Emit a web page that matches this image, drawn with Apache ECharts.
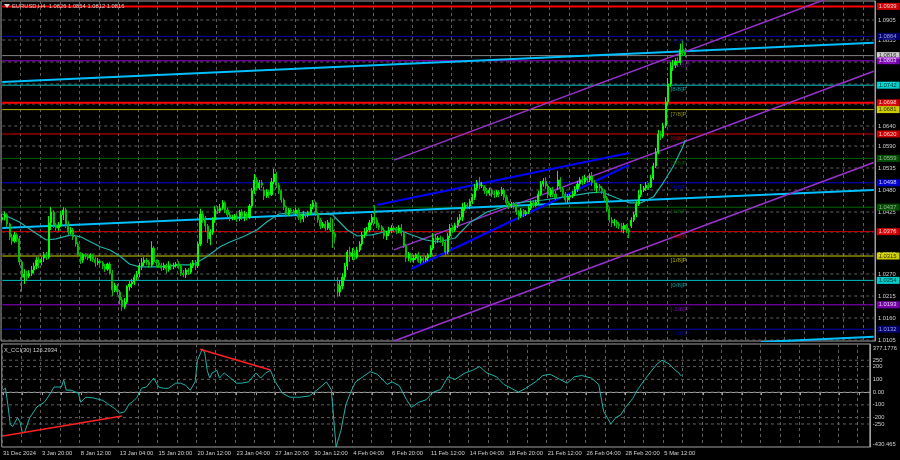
<!DOCTYPE html>
<html><head><meta charset="utf-8">
<script src="https://cdn.jsdelivr.net/npm/echarts@6/dist/echarts.min.js"></script>
<style>html,body{margin:0;padding:0;background:#000;}#c{width:900px;height:460px;}</style>
</head><body><div id="c"></div>
<script>
// ---------- DATA ----------
const timeLabels = ['31 Dec 2024','3 Jan 20:00','8 Jan 12:00','13 Jan 04:00','15 Jan 20:00','20 Jan 12:00','23 Jan 04:00','27 Jan 20:00','30 Jan 12:00','4 Feb 04:00','6 Feb 20:00','11 Feb 12:00','14 Feb 04:00','18 Feb 20:00','21 Feb 12:00','26 Feb 04:00','28 Feb 20:00','5 Mar 12:00'];
// [open, close, low, high] per H4 bar
const candles = [
[1.0405,1.0412,1.0398,1.0420],[1.0412,1.0418,1.0404,1.0426],[1.0418,1.0395,1.0388,1.0422],[1.0395,1.0362,1.0355,1.0398],[1.0362,1.0352,1.0343,1.0370],
[1.0352,1.0368,1.0348,1.0375],[1.0368,1.0358,1.0350,1.0372],[1.0358,1.0300,1.0292,1.0365],[1.0300,1.0262,1.0226,1.0305],[1.0262,1.0270,1.0245,1.0282],[1.0270,1.0265,1.0255,1.0278],
[1.0265,1.0272,1.0260,1.0280],[1.0272,1.0280,1.0265,1.0290],[1.0280,1.0290,1.0272,1.0298],[1.0290,1.0305,1.0282,1.0312],[1.0305,1.0298,1.0285,1.0312],[1.0298,1.0306,1.0292,1.0312],
[1.0310,1.0318,1.0300,1.0325],[1.0318,1.0312,1.0305,1.0325],[1.0312,1.0398,1.0308,1.0415],[1.0398,1.0425,1.0380,1.0437],[1.0425,1.0392,1.0385,1.0430],[1.0392,1.0385,1.0378,1.0398],
[1.0385,1.0392,1.0378,1.0400],[1.0392,1.0418,1.0388,1.0428],[1.0418,1.0430,1.0405,1.0437],[1.0430,1.0395,1.0385,1.0435],[1.0395,1.0375,1.0368,1.0402],[1.0375,1.0380,1.0370,1.0388],
[1.0380,1.0362,1.0355,1.0385],[1.0362,1.0345,1.0338,1.0368],[1.0345,1.0318,1.0312,1.0350],[1.0318,1.0305,1.0295,1.0325],[1.0305,1.0318,1.0298,1.0322],[1.0318,1.0315,1.0308,1.0322],
[1.0315,1.0310,1.0305,1.0320],[1.0310,1.0318,1.0302,1.0322],[1.0318,1.0306,1.0300,1.0320],[1.0306,1.0298,1.0288,1.0312],[1.0298,1.0302,1.0292,1.0310],[1.0302,1.0298,1.0292,1.0306],
[1.0298,1.0290,1.0282,1.0302],[1.0290,1.0282,1.0275,1.0295],[1.0282,1.0295,1.0278,1.0298],[1.0295,1.0272,1.0268,1.0300],[1.0272,1.0230,1.0215,1.0280],[1.0230,1.0242,1.0225,1.0248],
[1.0240,1.0225,1.0218,1.0245],[1.0225,1.0205,1.0195,1.0230],[1.0205,1.0188,1.0178,1.0212],[1.0188,1.0200,1.0182,1.0210],[1.0200,1.0238,1.0195,1.0242],[1.0238,1.0245,1.0228,1.0252],
[1.0245,1.0250,1.0235,1.0258],[1.0250,1.0262,1.0242,1.0268],[1.0262,1.0270,1.0255,1.0278],[1.0270,1.0290,1.0262,1.0298],[1.0290,1.0298,1.0280,1.0310],[1.0298,1.0305,1.0290,1.0312],
[1.0305,1.0300,1.0292,1.0310],[1.0300,1.0292,1.0285,1.0305],[1.0292,1.0335,1.0288,1.0352],[1.0335,1.0300,1.0295,1.0340],[1.0300,1.0298,1.0288,1.0306],[1.0298,1.0292,1.0285,1.0305],
[1.0292,1.0285,1.0278,1.0298],[1.0285,1.0292,1.0280,1.0298],[1.0292,1.0282,1.0272,1.0296],[1.0282,1.0290,1.0276,1.0302],[1.0290,1.0288,1.0280,1.0296],[1.0288,1.0292,1.0282,1.0298],
[1.0292,1.0295,1.0286,1.0300],[1.0295,1.0290,1.0282,1.0302],[1.0290,1.0272,1.0265,1.0295],[1.0272,1.0268,1.0262,1.0280],[1.0268,1.0280,1.0260,1.0285],[1.0280,1.0275,1.0268,1.0285],
[1.0275,1.0292,1.0270,1.0298],[1.0292,1.0298,1.0285,1.0305],[1.0298,1.0290,1.0280,1.0305],[1.0290,1.0345,1.0285,1.0350],[1.0345,1.0420,1.0340,1.0433],[1.0420,1.0410,1.0398,1.0428],
[1.0410,1.0390,1.0375,1.0415],[1.0390,1.0358,1.0348,1.0395],[1.0358,1.0375,1.0342,1.0382],[1.0375,1.0405,1.0368,1.0412],[1.0405,1.0432,1.0398,1.0440],[1.0432,1.0428,1.0420,1.0440],
[1.0428,1.0435,1.0422,1.0445],[1.0435,1.0448,1.0430,1.0455],[1.0448,1.0430,1.0422,1.0452],[1.0430,1.0418,1.0410,1.0436],[1.0418,1.0410,1.0402,1.0425],[1.0410,1.0412,1.0404,1.0418],
[1.0412,1.0415,1.0405,1.0420],[1.0415,1.0408,1.0400,1.0422],[1.0408,1.0425,1.0402,1.0430],[1.0425,1.0415,1.0405,1.0432],[1.0415,1.0420,1.0402,1.0428],[1.0420,1.0412,1.0405,1.0425],
[1.0412,1.0440,1.0408,1.0445],[1.0440,1.0478,1.0435,1.0485],[1.0478,1.0505,1.0470,1.0520],[1.0505,1.0485,1.0478,1.0512],[1.0485,1.0498,1.0480,1.0505],[1.0498,1.0492,1.0485,1.0505],
[1.0480,1.0465,1.0455,1.0488],[1.0465,1.0475,1.0460,1.0482],[1.0475,1.0468,1.0460,1.0480],[1.0468,1.0500,1.0465,1.0510],[1.0500,1.0520,1.0495,1.0533],[1.0520,1.0492,1.0485,1.0525],
[1.0492,1.0478,1.0470,1.0498],[1.0478,1.0455,1.0448,1.0482],[1.0455,1.0438,1.0430,1.0460],[1.0438,1.0420,1.0412,1.0442],[1.0420,1.0430,1.0415,1.0435],[1.0430,1.0428,1.0422,1.0435],
[1.0428,1.0422,1.0415,1.0432],[1.0422,1.0430,1.0416,1.0436],[1.0430,1.0412,1.0405,1.0435],[1.0412,1.0408,1.0398,1.0418],[1.0408,1.0420,1.0400,1.0428],[1.0420,1.0418,1.0410,1.0425],
[1.0418,1.0422,1.0412,1.0428],[1.0422,1.0438,1.0418,1.0445],[1.0438,1.0448,1.0432,1.0455],[1.0448,1.0420,1.0415,1.0452],[1.0420,1.0405,1.0398,1.0425],[1.0405,1.0390,1.0382,1.0410],
[1.0390,1.0395,1.0385,1.0400],[1.0395,1.0385,1.0378,1.0402],[1.0385,1.0398,1.0380,1.0405],[1.0398,1.0380,1.0375,1.0412],[1.0380,1.0370,1.0335,1.0408],[1.0370,1.0362,1.0352,1.0375],
[1.0245,1.0225,1.0213,1.0262],[1.0225,1.0240,1.0215,1.0255],[1.0240,1.0262,1.0232,1.0272],[1.0262,1.0290,1.0255,1.0298],[1.0290,1.0325,1.0280,1.0330],[1.0325,1.0315,1.0300,1.0338],
[1.0315,1.0322,1.0305,1.0335],[1.0322,1.0312,1.0305,1.0330],[1.0312,1.0330,1.0308,1.0338],[1.0330,1.0345,1.0325,1.0352],[1.0345,1.0368,1.0340,1.0375],[1.0368,1.0375,1.0360,1.0385],
[1.0375,1.0380,1.0368,1.0388],[1.0380,1.0398,1.0375,1.0405],[1.0398,1.0412,1.0392,1.0420],[1.0412,1.0405,1.0395,1.0442],[1.0405,1.0392,1.0385,1.0412],[1.0392,1.0388,1.0380,1.0398],
[1.0388,1.0380,1.0372,1.0392],[1.0380,1.0365,1.0358,1.0385],[1.0365,1.0372,1.0355,1.0378],[1.0372,1.0380,1.0365,1.0388],[1.0380,1.0385,1.0372,1.0392],[1.0385,1.0382,1.0375,1.0390],
[1.0382,1.0378,1.0370,1.0388],[1.0378,1.0385,1.0372,1.0392],[1.0385,1.0372,1.0365,1.0395],[1.0372,1.0340,1.0335,1.0378],[1.0340,1.0310,1.0300,1.0345],[1.0310,1.0320,1.0302,1.0325],
[1.0318,1.0305,1.0298,1.0322],[1.0305,1.0310,1.0298,1.0318],[1.0310,1.0318,1.0305,1.0322],[1.0318,1.0302,1.0298,1.0325],[1.0302,1.0308,1.0296,1.0315],[1.0308,1.0305,1.0298,1.0312],
[1.0305,1.0310,1.0300,1.0315],[1.0310,1.0318,1.0302,1.0322],[1.0318,1.0335,1.0312,1.0342],[1.0335,1.0360,1.0330,1.0372],[1.0360,1.0355,1.0345,1.0370],[1.0355,1.0360,1.0348,1.0365],
[1.0360,1.0358,1.0348,1.0366],[1.0358,1.0350,1.0340,1.0362],[1.0350,1.0325,1.0313,1.0356],[1.0325,1.0365,1.0320,1.0372],[1.0365,1.0385,1.0360,1.0395],[1.0385,1.0380,1.0372,1.0392],
[1.0380,1.0392,1.0375,1.0398],[1.0392,1.0405,1.0385,1.0412],[1.0405,1.0412,1.0398,1.0420],[1.0412,1.0435,1.0402,1.0448],[1.0435,1.0442,1.0428,1.0450],[1.0442,1.0440,1.0432,1.0448],
[1.0440,1.0452,1.0432,1.0458],[1.0452,1.0462,1.0445,1.0470],[1.0462,1.0485,1.0455,1.0495],[1.0485,1.0498,1.0478,1.0505],[1.0498,1.0490,1.0482,1.0513],[1.0490,1.0492,1.0485,1.0500],
[1.0488,1.0478,1.0470,1.0492],[1.0478,1.0472,1.0465,1.0485],[1.0472,1.0480,1.0466,1.0486],[1.0480,1.0470,1.0462,1.0484],[1.0470,1.0468,1.0460,1.0478],[1.0468,1.0475,1.0462,1.0480],
[1.0475,1.0470,1.0462,1.0480],[1.0470,1.0480,1.0465,1.0488],[1.0480,1.0462,1.0455,1.0485],[1.0462,1.0448,1.0440,1.0468],[1.0448,1.0440,1.0432,1.0452],[1.0440,1.0445,1.0435,1.0450],
[1.0445,1.0440,1.0432,1.0450],[1.0440,1.0425,1.0418,1.0445],[1.0425,1.0415,1.0405,1.0430],[1.0415,1.0428,1.0410,1.0435],[1.0428,1.0420,1.0412,1.0432],[1.0420,1.0425,1.0415,1.0430],
[1.0425,1.0435,1.0420,1.0440],[1.0435,1.0448,1.0430,1.0452],[1.0448,1.0442,1.0436,1.0455],[1.0442,1.0450,1.0438,1.0456],[1.0450,1.0470,1.0445,1.0478],[1.0470,1.0495,1.0465,1.0502],
[1.0495,1.0502,1.0488,1.0510],[1.0502,1.0490,1.0482,1.0512],[1.0490,1.0468,1.0460,1.0495],[1.0468,1.0480,1.0462,1.0485],[1.0480,1.0470,1.0462,1.0488],[1.0470,1.0460,1.0455,1.0478],
[1.0490,1.0505,1.0480,1.0528],[1.0505,1.0482,1.0475,1.0512],[1.0482,1.0470,1.0462,1.0488],[1.0470,1.0455,1.0448,1.0475],[1.0455,1.0462,1.0448,1.0470],[1.0462,1.0465,1.0455,1.0470],
[1.0465,1.0470,1.0460,1.0478],[1.0470,1.0482,1.0465,1.0490],[1.0482,1.0495,1.0475,1.0502],[1.0495,1.0505,1.0488,1.0512],[1.0505,1.0500,1.0492,1.0515],[1.0500,1.0510,1.0495,1.0518],
[1.0510,1.0505,1.0498,1.0515],[1.0505,1.0515,1.0500,1.0522],[1.0515,1.0498,1.0490,1.0525],[1.0498,1.0485,1.0478,1.0505],[1.0485,1.0490,1.0472,1.0498],[1.0490,1.0485,1.0478,1.0495],
[1.0485,1.0478,1.0470,1.0490],[1.0478,1.0460,1.0452,1.0482],[1.0460,1.0432,1.0425,1.0465],[1.0432,1.0405,1.0398,1.0438],[1.0405,1.0398,1.0388,1.0412],[1.0398,1.0400,1.0390,1.0408],
[1.0400,1.0395,1.0385,1.0405],[1.0395,1.0390,1.0382,1.0400],[1.0390,1.0382,1.0375,1.0398],[1.0382,1.0392,1.0372,1.0398],[1.0392,1.0380,1.0372,1.0395],[1.0380,1.0375,1.0360,1.0385],
[1.0390,1.0405,1.0385,1.0412],[1.0405,1.0418,1.0400,1.0425],[1.0418,1.0445,1.0412,1.0452],[1.0445,1.0468,1.0440,1.0480],[1.0468,1.0480,1.0462,1.0495],[1.0480,1.0485,1.0475,1.0490],
[1.0485,1.0492,1.0478,1.0500],[1.0492,1.0488,1.0480,1.0498],[1.0488,1.0510,1.0485,1.0518],[1.0510,1.0540,1.0505,1.0548],[1.0540,1.0575,1.0535,1.0585],[1.0575,1.0620,1.0570,1.0630],
[1.0620,1.0615,1.0605,1.0628],[1.0615,1.0640,1.0610,1.0648],[1.0640,1.0700,1.0635,1.0712],[1.0700,1.0745,1.0692,1.0760],[1.0745,1.0790,1.0738,1.0800],[1.0790,1.0792,1.0778,1.0805],
[1.0792,1.0802,1.0785,1.0810],[1.0802,1.0798,1.0788,1.0812],[1.0798,1.0832,1.0792,1.0846],[1.0832,1.0826,1.0815,1.0854],[1.0826,1.0816,1.0812,1.0835]
];
const maBars   = [0,7,13,18,22,28,32,40,44,48,52,56,64,73,78,84,89,93,99,104,108,113,118,126,135,137,141,145,151,156,161,167,173,178,185,191,198,210,221,230,240,245,251,256,261,266,270,274,278,279];
const maValues = [1.0420,1.0400,1.0375,1.0355,1.0358,1.0368,1.0363,1.0338,1.0330,1.0315,1.0295,1.0288,1.0288,1.0293,1.0293,1.0315,1.0338,1.0350,1.0365,1.0380,1.0400,1.0420,1.0423,1.0423,1.0418,1.0405,1.0380,1.0365,1.0368,1.0375,1.0383,1.0368,1.0355,1.0350,1.0360,1.0398,1.0425,1.0448,1.0455,1.0463,1.0473,1.0475,1.0460,1.0448,1.0448,1.0463,1.0498,1.0538,1.0588,1.0605];
const cciBars = [0,1,2,3,4,6,7,8,9,11,14,17,19,21,24,25,26,28,31,32,34,37,41,43,46,48,50,52,53,55,57,59,62,64,66,68,71,73,75,77,79,80,82,83,84,85,86,88,89,91,93,96,98,101,104,106,108,110,112,115,118,121,
  122,126,130,133,135,137,139,141,143,145,148,151,154,158,160,163,166,168,171,174,177,180,183,186,190,193,196,199,203,206,209,212,215,219,222,225,229,232,235,238,242,245,247,250,252,254,256,259,261,264,266,269,271,274,276,278,279];
const cciValues = [16,32,-100,-255,-270,-200,-235,-320,-310,-200,-115,-80,-25,40,40,95,15,15,-10,-80,-40,-45,-65,-90,-130,-165,-155,-90,-80,-45,30,40,110,40,30,30,70,70,55,15,80,250,340,305,170,110,150,170,110,150,120,70,70,80,150,110,150,170,80,-10,-40,-40,
  -40,-30,30,80,20,-430,-300,-100,0,80,120,160,140,60,80,50,-60,-120,-80,-60,0,20,120,100,150,170,200,150,120,60,30,0,30,80,130,140,100,70,120,130,110,60,-150,-250,-200,-180,-120,-50,20,100,150,220,250,220,180,150,126];
const priceTicks = [1.0105,1.0160,1.0215,1.0270,1.0320,1.0375,1.0425,1.0480,1.0535,1.0590,1.0640,1.0695,1.0745,1.0800,1.0855,1.0905];
const cciTickValues = [345.8,250,200,100,0,-100,-200,-250,-407];
const cciTickTexts  = ['377.1776','250','200','100','0.00','-100','-200','-250','-430.465'];
const cciGridLevels = [250,200,100,0,-100,-200,-250];
const murreyNames  = ['[+2/8]P','[+1/8]P','[8/8]P','[7/8]P','[6/8]P','[5/8]P','[4/8]P','[3/8]P','[2/8]P','[1/8]P','[0/8]P','[-1/8]P','[-2/8]P'];
const murreyLevels = [1.0864,1.0803,1.0742,1.0681,1.0620,1.0559,1.0498,1.0437,1.0376,1.0315,1.0254,1.0193,1.0132];
const redLevels = [1.0939,1.0698];
const bidPrice = 1.0816;
// trend objects: [bar, price] endpoints
const lightBlueLines = [[[0,1.0385],[356,1.0480]],[[0,1.0750],[356,1.0848]],[[310,1.0100],[356,1.0113]]];
const channelLines = [[[160,1.05548],[356,1.10016]],[[160,1.03302],[356,1.07768]],[[160,1.01025],[356,1.05488]]];
const blueLines = [[[153,1.04425],[256,1.05725]],[[167,1.02825],[256,1.05425]]];
const cciRedLines = [[[0,-344],[49,-187]],[[81,336],[110,173]]];
const titleText = 'EURUSD,H4  1.0826 1.0854 1.0812 1.0816';
const cciTitle = 'X_CCI(30) 126.2934';

// ---------- STYLE ----------
const murreyColors = ['#0000b0','#9400d3','#00c0c0','#b0b000','#d00000','#006400','#0000e0','#006400','#d00000','#d0d000','#00c0c0','#9400d3','#0000b0'];
const murreyBoxColors = ['#00008b','#9400d3','#00ffff','#ffff00','#ff0000','#006400','#0000ff','#006400','#ff0000','#ffff00','#00ffff','#9400d3','#00008b'];
const murreyBoxText = ['#c8c8ff','#ffffff','#000000','#000000','#ffffff','#c8c8c8','#ffffff','#c8c8c8','#ffffff','#000000','#000000','#ffffff','#c8c8ff'];
const FONT = 'Liberation Sans';
const FS = 5.8;
const N_SLOTS = 357;
const LAST = N_SLOTS - 1;
const LABEL_BAR = 273;

const slots = Array.from({length: N_SLOTS}, (_, i) => String(i));
const seg = (pts, color, width, z, xi, yi, type) => ({
  type: 'line', data: pts, xAxisIndex: xi || 0, yAxisIndex: yi || 0, symbol: 'none', silent: true,
  lineStyle: {color, width, type: type || 'solid'}, z, clip: true, animation: false
});
const series = [];
priceTicks.forEach(v => series.push(seg([[0, v], [LAST, v]], '#5f5f5f', 1, 1, 0, 0, [3, 3])));
cciGridLevels.forEach(v => series.push(seg([[0, v], [LAST, v]], '#5f5f5f', 1, 1, 1, 1, [3, 3])));
redLevels.forEach(v => series.push(seg([[0, v], [LAST, v]], '#ff0000', 2, 2)));
series.push(seg([[0, bidPrice], [LAST, bidPrice]], '#808080', 1, 2));
murreyLevels.forEach((v, i) => series.push(seg([[0, v], [LAST, v]], murreyColors[i], 1, 2)));
lightBlueLines.forEach(l => series.push(seg(l, '#00bfff', 2, 3)));
channelLines.forEach(l => series.push(seg(l, '#9932cc', 1.5, 3)));
blueLines.forEach(l => series.push(seg(l, '#0000ff', 2, 3)));
series.push(seg(maBars.map((b, i) => [b, maValues[i]]), '#20b2aa', 1.2, 4));
series.push({
  type: 'candlestick', data: candles, xAxisIndex: 0, yAxisIndex: 0, z: 5, barWidth: 1.6, silent: true,
  itemStyle: {color: '#00ff00', color0: '#00a000', borderColor: '#00ff00', borderColor0: '#00c000', borderWidth: 1}
});
series.push({
  type: 'scatter', xAxisIndex: 0, yAxisIndex: 0, symbolSize: 0, z: 6, silent: true,
  data: murreyLevels.map((v, i) => ({value: [LABEL_BAR, v], name: murreyNames[i],
    label: {color: murreyColors[i]}})),
  label: {show: true, position: [0, 1.5], formatter: p => p.name, fontFamily: FONT, fontSize: FS + 0.4}
});
const boxes = [];
redLevels.forEach(v => boxes.push({v, bg: '#ff0000', fg: '#ffffff'}));
boxes.push({v: bidPrice, bg: '#ffffff', fg: '#000000'});
murreyLevels.forEach((v, i) => boxes.push({v, bg: murreyBoxColors[i], fg: murreyBoxText[i]}));
series.push({
  type: 'scatter', xAxisIndex: 0, yAxisIndex: 0, symbolSize: 0, z: 7, silent: true,
  data: boxes.map(b => ({value: [LAST, b.v], label: {backgroundColor: b.bg, color: b.fg}})),
  label: {show: true, position: 'right', distance: 3, formatter: p => p.value[1].toFixed(4),
    fontFamily: FONT, fontSize: FS, padding: [1, 3, 0, 2], lineHeight: 6}
});
series.push(seg(cciBars.map((b, i) => [b, cciValues[i]]), '#20b2aa', 1, 4, 1, 1));
cciRedLines.forEach(l => series.push(seg(l, '#ff2020', 1.5, 5, 1, 1)));

const axisTxt = {color: '#d0d0d0', fontFamily: FONT, fontSize: FS};
const option = {
  backgroundColor: '#000000',
  animation: false,
  textStyle: {fontFamily: FONT},
  grid: [
    {left: 1, right: 25, top: 1, height: 340, show: true, borderColor: '#a0a0a0', borderWidth: 1, backgroundColor: 'transparent'},
    {left: 1, right: 25, top: 344, height: 103, show: true, borderColor: '#a0a0a0', borderWidth: 1, backgroundColor: 'transparent'}
  ],
  xAxis: [
    {type: 'category', data: slots, gridIndex: 0, boundaryGap: true,
     axisLine: {show: false}, axisTick: {show: false}, axisLabel: {show: false},
     splitLine: {show: true, interval: i => i % 8 === 0, lineStyle: {color: '#5f5f5f', type: [3, 3]}}},
    {type: 'category', data: slots, gridIndex: 1, boundaryGap: true,
     axisLine: {show: true, lineStyle: {color: '#a0a0a0'}},
     axisTick: {show: true, interval: i => i % 8 === 0, alignWithLabel: true, length: 3, lineStyle: {color: '#a0a0a0'}},
     axisLabel: Object.assign({show: true, interval: i => i % 16 === 0 && i / 16 < timeLabels.length,
       formatter: (v, i) => timeLabels[Math.round(i / 16)] || '', align: 'left', margin: 3}, axisTxt),
     splitLine: {show: true, interval: i => i % 8 === 0, lineStyle: {color: '#5f5f5f', type: [3, 3]}}}
  ],
  yAxis: [
    {type: 'value', gridIndex: 0, position: 'right', min: 1.01025, max: 1.09525,
     axisLine: {show: true, lineStyle: {color: '#a0a0a0'}}, axisTick: {show: false}, splitLine: {show: false},
     axisLabel: Object.assign({customValues: priceTicks, formatter: v => v.toFixed(4), margin: 3}, axisTxt)},
    {type: 'value', gridIndex: 1, position: 'right', min: -430.465, max: 377.1776,
     axisLine: {show: true, lineStyle: {color: '#a0a0a0'}}, axisTick: {show: false}, splitLine: {show: false},
     axisLabel: Object.assign({customValues: cciTickValues, margin: 3,
       formatter: v => { const k = cciTickValues.findIndex(t => Math.abs(t - v) < 1e-6); return k >= 0 ? cciTickTexts[k] : ''; }}, axisTxt)}
  ],
  graphic: [
    {type: 'polygon', shape: {points: [[4, 4], [10, 4], [7, 8]]}, style: {fill: '#d0d0d0'}, z: 10},
    {type: 'text', left: 12, top: 3, style: {text: titleText, fill: '#d0d0d0', font: FS + 'px ' + FONT}, z: 10},
    {type: 'text', left: 4, top: 347, style: {text: cciTitle, fill: '#d0d0d0', font: FS + 'px ' + FONT}, z: 10}
  ],
  series
};
const chart = echarts.init(document.getElementById('c'), null, {renderer: 'canvas'});
chart.setOption(option);
</script>
</body></html>
